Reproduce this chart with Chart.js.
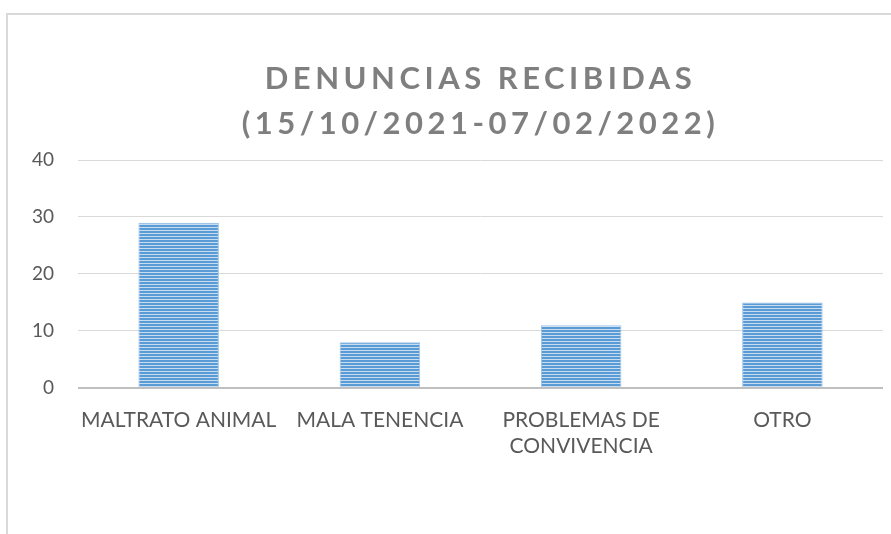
<!DOCTYPE html>
<html>
<head>
<meta charset="utf-8">
<script src="https://cdn.jsdelivr.net/npm/chart.js@4/dist/chart.umd.min.js"></script>
<style>
  html, body { margin: 0; padding: 0; background: #ffffff; overflow: hidden; }
  #wrap { position: relative; width: 891px; height: 534px; }
  #frame { position: absolute; left: 6px; top: 13px; width: 1000px; height: 1000px;
           border-top: 2px solid #d9d9d9; border-left: 2px solid #d9d9d9; pointer-events: none; }
  canvas { position: absolute; left: 0; top: 0; }
</style>
</head>
<body>
<div id="wrap">
  <canvas id="c" width="891" height="534"></canvas>
  <div id="frame"></div>
</div>
<script>
const categories = ['MALTRATO ANIMAL', 'MALA TENENCIA', ['PROBLEMAS DE', 'CONVIVENCIA'], 'OTRO'];
const denuncias = [29, 8, 11, 15];
const yTicks = [0, 10, 20, 30, 40];
const titleLines = ['DENUNCIAS RECIBIDAS', '(15/10/2021-07/02/2022)'];

function stripePattern() {
  const p = document.createElement('canvas');
  p.width = 4; p.height = 3;
  const g = p.getContext('2d');
  g.fillStyle = '#5b9bd5';
  g.fillRect(0, 0, 4, 2);
  g.fillStyle = '#c5dcf1';
  g.fillRect(0, 2, 4, 1);
  return g.createPattern(p, 'repeat');
}

const titlePlugin = {
  id: 'spacedTitle',
  afterDraw(chart) {
    const c = chart.ctx;
    const a = chart.chartArea;
    const cx = (a.left + a.right) / 2;
    c.save();
    c.letterSpacing = '4.5px';
    c.font = 'bold 31px Lato';
    c.fillStyle = '#7f7f7f';
    c.textAlign = 'center';
    c.textBaseline = 'alphabetic';
    c.fillText(titleLines[0], cx, a.top - 71);
    c.fillText(titleLines[1], cx, a.top - 26);
    c.letterSpacing = '0px';
    c.restore();
  }
};

const ctx = document.getElementById('c').getContext('2d');
new Chart(ctx, {
  type: 'bar',
  data: {
    labels: categories,
    datasets: [{
      data: denuncias,
      backgroundColor: stripePattern(),
      borderColor: '#9cc2e7',
      borderWidth: 1,
      barPercentage: 0.5,
      categoryPercentage: 0.8
    }]
  },
  plugins: [titlePlugin],
  options: {
    responsive: false,
    animation: false,
    devicePixelRatio: 1,
    layout: { padding: { top: 160, left: 8, right: 8, bottom: 56 } },
    plugins: {
      legend: { display: false },
      tooltip: { enabled: false },
      title: { display: false }
    },
    scales: {
      x: {
        afterFit(scale) { scale.paddingLeft = 0; scale.paddingRight = 0; },
        grid: { display: false, drawTicks: false },
        border: { display: false },
        ticks: {
          color: '#595959',
          font: { family: 'Lato', size: 21, lineHeight: 1.24 },
          padding: 19,
          maxRotation: 0,
          autoSkip: false
        }
      },
      y: {
        min: yTicks[0],
        max: yTicks[yTicks.length - 1],
        afterBuildTicks(scale) { scale.ticks = yTicks.map(v => ({ value: v })); },
        grid: {
          drawTicks: false,
          color: c => (c.tick && c.tick.value === 0) ? '#bfbfbf' : '#d9d9d9',
          lineWidth: c => (c.tick && c.tick.value === 0) ? 2 : 1
        },
        border: { display: false },
        ticks: {
          color: '#595959',
          font: { family: 'Lato', size: 19 },
          padding: 24
        }
      }
    }
  }
});
</script>
</body>
</html>
